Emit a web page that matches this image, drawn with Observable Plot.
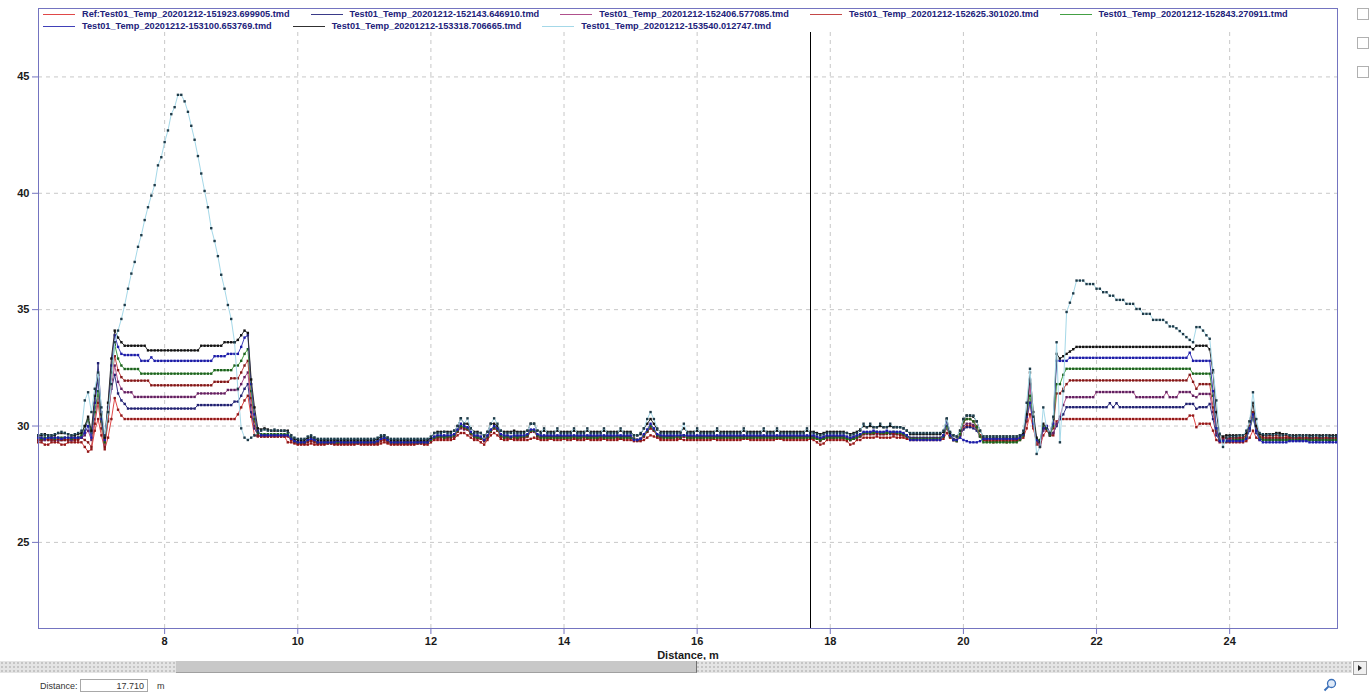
<!DOCTYPE html>
<html><head><meta charset="utf-8">
<script src="https://cdn.jsdelivr.net/npm/d3@7"></script>
<script src="https://cdn.jsdelivr.net/npm/@observablehq/plot@0.6"></script>
<style>
body{margin:0;background:#fff;font-family:"Liberation Sans",Arial,sans-serif;}
#wrap{position:relative;width:1372px;height:694px;overflow:hidden;background:#fff}
#chart{position:absolute;left:0;top:0}
#chart svg g[aria-label="x-axis tick"], #chart svg g[aria-label="y-axis tick"]{stroke:#7474c0}
#chart svg g[aria-label="x-axis tick label"], #chart svg g[aria-label="y-axis tick label"]{fill:#1a1a1a}
#legend{position:absolute;left:39px;top:9px;width:1297px;height:23px;background:#fff}
.lrow{position:absolute;left:4px;display:flex;gap:21px;white-space:nowrap}
.item{display:flex;align-items:center;font-weight:bold;font-size:9.2px;color:#22227a}
.swatch{display:inline-block;width:32px;height:1px;margin-right:7px}
#scroll{position:absolute;left:0;top:661px;width:1352px;height:12px;background-color:#e4e4e4;
 background-image:radial-gradient(#c4c4c4 0.7px,transparent 0.9px);background-size:4px 4px}
#thumb{position:absolute;left:176px;top:0;width:520px;height:11px;background:#c8c8c8;border-right:1px solid #707070;border-bottom:1px solid #a0a0a0}
#arrow{position:absolute;left:1353px;top:661px;width:12px;height:12px;border:1px solid #a0a0a0;background:#f0f0f0}
#arrow:after{content:"";position:absolute;left:4px;top:3px;border-left:4px solid #222;border-top:3px solid transparent;border-bottom:3px solid transparent}
.chk{position:absolute;left:1357px;width:10px;height:10px;border:1px solid #b0b0b0;background:#fff}
#dlabel{position:absolute;left:40px;top:681px;font-size:9px;color:#333}
#dbox{position:absolute;left:80px;top:679px;width:68px;height:13px;border:1px solid #a8a8a8;font-size:9px;color:#333;text-align:right;line-height:13px;padding-right:3px;box-sizing:border-box}
#dunit{position:absolute;left:157px;top:681px;font-size:9px;color:#333}
#zoombtn{position:absolute;left:1322px;top:677px}
</style></head><body>
<div id="wrap">
<div id="chart"></div>
<div id="legend"></div>
<div class="chk" style="top:8px"></div>
<div class="chk" style="top:37px"></div>
<div class="chk" style="top:66px"></div>
<div id="scroll"><div id="thumb"></div></div>
<div id="arrow"></div>
<div id="dlabel">Distance:</div>
<div id="dbox">17.710</div>
<div id="dunit">m</div>
<svg id="zoombtn" width="16" height="16" viewBox="0 0 16 16"><circle cx="9.5" cy="6.5" r="4" fill="#dfeaf8" stroke="#3a6fb8" stroke-width="1.3"/><line x1="6.6" y1="9.4" x2="2.5" y2="13.5" stroke="#3a6fb8" stroke-width="2"/></svg>
</div>
<script>
// Sampling grid of the distance axis (m)
const distanceStart = 6.10;
const distanceStep = 0.05;
const cursorDistance = 17.710;

const seriesNames = [
  "Ref:Test01_Temp_20201212-151923.699905.tmd",
  "Test01_Temp_20201212-152143.646910.tmd",
  "Test01_Temp_20201212-152406.577085.tmd",
  "Test01_Temp_20201212-152625.301020.tmd",
  "Test01_Temp_20201212-152843.270911.tmd",
  "Test01_Temp_20201212-153100.653769.tmd",
  "Test01_Temp_20201212-153318.706665.tmd",
  "Test01_Temp_20201212-153540.012747.tmd"
];
const lineColors = ["#e04848","#3a3a88","#b0508c","#c44848","#44a044","#4040b8","#303030","#a4d8e8"];
const markerColors = ["#901818","#202070","#602060","#801818","#1c601c","#1c1ca8","#111111","#1e3a48"];
const xTicks = [8,10,12,14,16,18,20,22,24];
const yTicks = [25,30,35,40,45];

const t151923 = [
29.3,29.3,29.2,29.2,29.3,29.3,29.3,29.2,29.2,29.3,29.3,29.3,29.3,29.3,29.1,28.9,29.0,29.8,30.3,29.6,
29.0,29.5,30.3,31.2,30.7,30.45,30.3,30.3,30.3,30.3,30.3,30.3,30.3,30.3,30.3,30.3,30.3,30.3,30.3,30.3,
30.3,30.3,30.3,30.3,30.3,30.3,30.3,30.3,30.3,30.3,30.3,30.3,30.3,30.3,30.3,30.3,30.3,30.3,30.3,30.3,
30.5,30.8,31.1,31.3,30.4,29.6,29.55,29.55,29.55,29.55,29.55,29.55,29.55,29.55,29.55,29.3,29.3,29.25,29.2,29.2,
29.2,29.2,29.25,29.2,29.2,29.2,29.2,29.25,29.25,29.2,29.2,29.2,29.2,29.2,29.2,29.2,29.25,29.2,29.2,29.2,
29.2,29.2,29.2,29.25,29.3,29.25,29.2,29.2,29.2,29.2,29.2,29.2,29.2,29.2,29.25,29.25,29.2,29.2,29.3,29.4,
29.4,29.4,29.4,29.4,29.4,29.45,29.6,29.7,29.7,29.6,29.5,29.4,29.4,29.3,29.2,29.4,29.6,29.7,29.6,29.45,
29.4,29.4,29.45,29.4,29.4,29.4,29.4,29.4,29.45,29.5,29.45,29.4,29.4,29.4,29.45,29.4,29.4,29.4,29.45,29.4,
29.4,29.45,29.4,29.4,29.4,29.45,29.4,29.4,29.4,29.4,29.45,29.4,29.4,29.4,29.4,29.45,29.4,29.4,29.4,29.35,
29.35,29.35,29.4,29.5,29.6,29.55,29.5,29.4,29.4,29.4,29.4,29.4,29.4,29.45,29.4,29.4,29.4,29.4,29.4,29.4,
29.4,29.4,29.4,29.45,29.4,29.4,29.4,29.4,29.4,29.4,29.4,29.4,29.45,29.45,29.4,29.4,29.4,29.4,29.4,29.4,
29.4,29.4,29.45,29.45,29.4,29.4,29.4,29.4,29.4,29.4,29.4,29.4,29.45,29.4,29.3,29.2,29.25,29.4,29.4,29.4,
29.4,29.4,29.4,29.35,29.2,29.25,29.4,29.4,29.5,29.5,29.5,29.5,29.55,29.5,29.5,29.5,29.5,29.55,29.5,29.5,
29.5,29.45,29.4,29.4,29.4,29.4,29.4,29.4,29.4,29.4,29.4,29.4,29.45,29.7,29.5,29.4,29.35,29.6,29.9,30.0,
30.0,30.0,29.9,29.6,29.4,29.35,29.35,29.3,29.35,29.35,29.35,29.3,29.35,29.35,29.35,29.4,29.5,29.9,30.5,29.9,
29.3,29.1,29.6,29.8,29.6,29.6,30.2,30.3,30.3,30.3,30.3,30.3,30.3,30.3,30.3,30.3,30.3,30.3,30.3,30.3,
30.3,30.3,30.3,30.3,30.3,30.3,30.3,30.3,30.3,30.3,30.3,30.3,30.3,30.3,30.3,30.3,30.3,30.3,30.3,30.3,
30.3,30.3,30.3,30.3,30.3,30.3,30.45,30.45,29.95,30.1,30.1,30.1,30.1,29.8,29.4,29.3,29.3,29.3,29.3,29.3,
29.3,29.3,29.3,29.35,29.5,29.8,29.5,29.4,29.6,29.6,29.6,29.6,29.6,29.6,29.6,29.6,29.5,29.5,29.45,29.45,
29.45,29.45,29.45,29.45,29.45,29.45,29.45,29.45,29.45,29.45,29.45];

const t152143 = [
29.4,29.4,29.4,29.45,29.4,29.4,29.4,29.4,29.45,29.4,29.4,29.45,29.5,29.5,29.8,30.3,29.6,30.8,32.7,30.6,
29.3,30.5,31.6,32.2,31.4,31.1,30.95,30.75,30.75,30.75,30.75,30.75,30.75,30.75,30.75,30.75,30.75,30.75,30.75,30.75,
30.75,30.75,30.75,30.75,30.75,30.75,30.75,30.75,30.9,30.9,30.9,30.9,30.9,30.9,30.9,30.9,30.9,30.9,30.9,31.05,
31.05,31.3,31.6,31.8,30.6,29.9,29.6,29.6,29.6,29.6,29.6,29.6,29.6,29.6,29.6,29.6,29.45,29.35,29.3,29.3,
29.3,29.4,29.45,29.4,29.3,29.3,29.3,29.3,29.3,29.3,29.35,29.3,29.3,29.3,29.3,29.3,29.3,29.3,29.3,29.3,
29.3,29.3,29.35,29.45,29.5,29.4,29.3,29.3,29.3,29.3,29.3,29.3,29.3,29.3,29.3,29.35,29.3,29.3,29.4,29.5,
29.55,29.55,29.55,29.55,29.55,29.6,29.8,30.0,29.9,29.9,29.7,29.55,29.55,29.5,29.4,29.55,29.8,29.95,29.85,29.6,
29.55,29.55,29.5,29.55,29.55,29.55,29.55,29.6,29.8,29.8,29.6,29.55,29.55,29.55,29.55,29.55,29.55,29.55,29.55,29.55,
29.55,29.55,29.55,29.55,29.55,29.55,29.55,29.55,29.55,29.55,29.55,29.55,29.55,29.55,29.55,29.55,29.55,29.55,29.55,29.45,
29.4,29.45,29.6,29.8,30.0,29.85,29.6,29.55,29.55,29.55,29.55,29.55,29.55,29.55,29.6,29.55,29.55,29.55,29.55,29.55,
29.55,29.55,29.55,29.55,29.55,29.55,29.55,29.55,29.55,29.55,29.55,29.55,29.55,29.55,29.55,29.55,29.55,29.55,29.55,29.55,
29.55,29.55,29.55,29.55,29.55,29.55,29.55,29.55,29.55,29.55,29.55,29.55,29.55,29.55,29.5,29.45,29.5,29.55,29.55,29.55,
29.55,29.55,29.55,29.5,29.45,29.5,29.55,29.6,29.7,29.7,29.7,29.75,29.7,29.7,29.7,29.75,29.7,29.7,29.7,29.7,
29.65,29.6,29.5,29.5,29.5,29.5,29.5,29.5,29.5,29.5,29.5,29.5,29.6,29.95,29.6,29.45,29.4,29.6,29.85,29.95,
29.95,29.9,29.8,29.55,29.45,29.45,29.45,29.45,29.45,29.45,29.45,29.45,29.45,29.45,29.45,29.5,29.7,30.4,32.0,30.3,
29.4,29.2,29.9,29.9,29.6,29.7,30.0,30.3,30.5,30.81,30.81,30.81,30.81,30.81,30.81,30.81,30.81,30.81,30.81,30.81,
30.81,30.81,30.98,30.81,30.98,30.81,30.81,30.81,30.81,30.81,30.81,30.81,30.81,30.81,30.81,30.81,30.81,30.81,30.81,30.81,
30.81,30.81,30.81,30.81,30.81,30.95,30.95,30.95,30.74,30.81,30.81,30.81,30.95,30.3,29.6,29.4,29.4,29.4,29.4,29.4,
29.4,29.4,29.4,29.5,29.8,30.4,29.7,29.45,29.4,29.4,29.4,29.4,29.4,29.4,29.4,29.4,29.4,29.4,29.4,29.4,
29.4,29.4,29.4,29.4,29.35,29.4,29.4,29.4,29.35,29.4,29.4];

const t152406 = [
29.4,29.4,29.4,29.4,29.45,29.4,29.4,29.4,29.4,29.45,29.4,29.4,29.45,29.5,29.6,29.8,29.4,30.3,31.3,30.2,
29.2,30.3,31.7,32.6,31.9,31.6,31.45,31.45,31.45,31.25,31.25,31.25,31.25,31.25,31.25,31.25,31.25,31.25,31.25,31.25,
31.25,31.25,31.25,31.25,31.25,31.25,31.25,31.25,31.4,31.4,31.4,31.4,31.4,31.4,31.4,31.4,31.4,31.55,31.55,31.55,
31.55,31.8,32.1,32.3,30.9,30.0,29.6,29.6,29.6,29.6,29.6,29.6,29.6,29.6,29.6,29.6,29.45,29.35,29.3,29.3,
29.3,29.35,29.4,29.35,29.3,29.3,29.3,29.3,29.3,29.3,29.3,29.3,29.3,29.3,29.3,29.3,29.3,29.3,29.3,29.3,
29.3,29.3,29.3,29.4,29.45,29.35,29.3,29.3,29.3,29.3,29.3,29.3,29.3,29.3,29.3,29.3,29.3,29.3,29.4,29.5,
29.5,29.5,29.5,29.5,29.5,29.55,29.75,29.9,29.85,29.85,29.65,29.5,29.5,29.45,29.35,29.5,29.75,29.9,29.8,29.55,
29.5,29.5,29.5,29.5,29.5,29.5,29.5,29.55,29.75,29.75,29.55,29.5,29.5,29.5,29.5,29.5,29.5,29.5,29.5,29.5,
29.5,29.5,29.5,29.5,29.5,29.5,29.5,29.5,29.5,29.5,29.5,29.5,29.5,29.5,29.5,29.5,29.5,29.5,29.5,29.45,
29.4,29.4,29.55,29.75,29.9,29.8,29.55,29.5,29.5,29.5,29.5,29.5,29.5,29.5,29.55,29.5,29.5,29.5,29.5,29.5,
29.5,29.5,29.5,29.5,29.5,29.5,29.5,29.5,29.5,29.5,29.5,29.5,29.5,29.5,29.5,29.5,29.5,29.5,29.5,29.5,
29.5,29.5,29.5,29.5,29.5,29.5,29.5,29.5,29.5,29.5,29.5,29.5,29.5,29.5,29.45,29.4,29.45,29.5,29.5,29.5,
29.5,29.5,29.5,29.45,29.4,29.45,29.5,29.55,29.65,29.65,29.65,29.7,29.65,29.65,29.65,29.7,29.65,29.65,29.65,29.65,
29.6,29.55,29.45,29.45,29.45,29.45,29.45,29.45,29.45,29.45,29.45,29.45,29.55,29.9,29.55,29.4,29.4,29.6,30.0,30.1,
30.1,30.05,29.9,29.55,29.4,29.4,29.4,29.4,29.4,29.4,29.4,29.4,29.4,29.4,29.4,29.45,29.6,30.3,31.8,30.2,
29.3,29.2,29.8,29.9,29.6,29.7,30.1,30.4,30.9,31.24,31.24,31.24,31.24,31.24,31.24,31.24,31.24,31.24,31.46,31.46,
31.46,31.46,31.46,31.46,31.46,31.46,31.46,31.46,31.46,31.46,31.24,31.24,31.24,31.24,31.24,31.24,31.24,31.24,31.24,31.46,
31.24,31.24,31.24,31.46,31.46,31.46,31.46,31.3,31.24,31.38,31.38,31.38,31.38,30.6,29.7,29.45,29.45,29.45,29.45,29.45,
29.45,29.45,29.45,29.55,29.9,30.5,29.8,29.5,29.45,29.45,29.45,29.45,29.45,29.45,29.45,29.45,29.45,29.45,29.45,29.45,
29.45,29.45,29.45,29.45,29.45,29.45,29.45,29.45,29.45,29.45,29.45];

const t152625 = [
29.4,29.4,29.45,29.4,29.4,29.4,29.45,29.4,29.4,29.4,29.45,29.4,29.4,29.5,29.4,29.3,29.1,30.1,31.0,29.9,
29.1,30.2,32.0,33.0,32.4,32.1,31.95,31.95,31.95,31.95,31.95,31.95,31.95,31.95,31.75,31.75,31.75,31.75,31.75,31.75,
31.75,31.75,31.75,31.75,31.75,31.75,31.75,31.75,31.75,31.75,31.75,31.75,31.75,31.9,31.9,31.9,31.9,31.9,32.05,32.05,
32.05,32.3,32.6,32.8,31.2,30.2,29.6,29.55,29.55,29.55,29.55,29.55,29.55,29.55,29.55,29.55,29.4,29.3,29.25,29.25,
29.25,29.3,29.35,29.3,29.25,29.25,29.25,29.25,29.25,29.25,29.25,29.25,29.25,29.25,29.25,29.25,29.25,29.25,29.25,29.25,
29.25,29.25,29.25,29.35,29.4,29.3,29.25,29.25,29.25,29.25,29.25,29.25,29.25,29.25,29.25,29.25,29.25,29.3,29.4,29.5,
29.5,29.5,29.5,29.5,29.5,29.55,29.75,29.95,29.9,29.85,29.65,29.5,29.5,29.45,29.35,29.5,29.75,29.9,29.8,29.55,
29.5,29.5,29.5,29.5,29.45,29.5,29.5,29.55,29.75,29.8,29.55,29.5,29.5,29.5,29.5,29.5,29.5,29.5,29.5,29.5,
29.5,29.5,29.45,29.5,29.5,29.5,29.5,29.5,29.45,29.5,29.5,29.5,29.5,29.5,29.5,29.45,29.5,29.5,29.5,29.45,
29.4,29.4,29.55,29.75,29.9,29.8,29.55,29.5,29.5,29.5,29.5,29.5,29.5,29.5,29.55,29.5,29.5,29.5,29.5,29.5,
29.5,29.5,29.5,29.5,29.5,29.5,29.5,29.5,29.5,29.5,29.5,29.5,29.5,29.5,29.5,29.5,29.5,29.5,29.5,29.5,
29.5,29.5,29.5,29.5,29.5,29.5,29.5,29.5,29.5,29.5,29.5,29.5,29.5,29.5,29.45,29.35,29.45,29.5,29.5,29.5,
29.5,29.5,29.5,29.45,29.4,29.45,29.5,29.55,29.65,29.7,29.65,29.65,29.7,29.65,29.65,29.65,29.7,29.65,29.65,29.6,
29.6,29.55,29.45,29.45,29.45,29.45,29.45,29.45,29.45,29.45,29.45,29.45,29.55,30.0,29.55,29.4,29.4,29.65,30.15,30.3,
30.3,30.2,30.0,29.6,29.4,29.4,29.4,29.4,29.4,29.4,29.4,29.4,29.4,29.4,29.4,29.45,29.6,30.2,31.0,30.0,
29.2,29.3,29.9,30.0,29.7,29.9,31.4,31.4,31.6,31.8,31.96,31.96,31.96,31.96,31.96,31.96,31.96,31.96,31.96,31.96,
31.96,31.96,31.96,31.96,31.96,31.96,31.96,31.96,31.96,31.96,31.96,31.96,31.96,31.96,31.96,31.96,31.96,31.96,31.96,31.96,
31.96,31.96,31.96,31.96,31.96,31.96,32.2,31.9,31.6,31.8,31.8,31.8,31.8,30.8,29.8,29.5,29.5,29.5,29.5,29.5,
29.5,29.5,29.5,29.6,30.0,30.6,29.9,29.55,29.5,29.5,29.5,29.5,29.5,29.5,29.5,29.5,29.5,29.5,29.5,29.5,
29.5,29.5,29.5,29.5,29.5,29.5,29.5,29.5,29.5,29.5,29.5];

const t152843 = [
29.5,29.45,29.5,29.5,29.5,29.45,29.5,29.5,29.5,29.5,29.45,29.5,29.5,29.6,30.0,30.3,29.7,30.6,31.5,30.2,
29.3,30.6,32.3,33.5,32.9,32.6,32.45,32.45,32.45,32.45,32.45,32.25,32.25,32.25,32.25,32.25,32.25,32.25,32.25,32.25,
32.25,32.25,32.25,32.25,32.25,32.25,32.25,32.25,32.25,32.25,32.25,32.25,32.25,32.4,32.4,32.4,32.4,32.4,32.4,32.6,
32.6,32.8,33.1,33.3,31.5,30.3,29.7,29.65,29.65,29.65,29.65,29.65,29.65,29.65,29.65,29.65,29.5,29.35,29.3,29.3,
29.3,29.4,29.45,29.4,29.3,29.3,29.3,29.3,29.3,29.3,29.3,29.3,29.3,29.3,29.3,29.3,29.3,29.3,29.3,29.3,
29.3,29.3,29.35,29.45,29.5,29.4,29.3,29.3,29.3,29.3,29.3,29.3,29.3,29.3,29.3,29.3,29.3,29.3,29.4,29.5,
29.55,29.55,29.5,29.55,29.55,29.6,29.8,30.0,29.95,29.9,29.7,29.55,29.5,29.5,29.4,29.55,29.8,29.95,29.85,29.6,
29.5,29.55,29.5,29.55,29.5,29.55,29.55,29.6,29.8,29.8,29.6,29.5,29.5,29.5,29.5,29.5,29.5,29.5,29.5,29.5,
29.5,29.55,29.5,29.5,29.55,29.5,29.5,29.5,29.5,29.55,29.5,29.5,29.5,29.5,29.55,29.5,29.5,29.5,29.5,29.45,
29.4,29.45,29.6,29.8,30.0,29.85,29.6,29.55,29.5,29.5,29.5,29.5,29.55,29.5,29.6,29.5,29.5,29.5,29.5,29.5,
29.5,29.5,29.5,29.5,29.5,29.5,29.5,29.5,29.5,29.5,29.5,29.5,29.5,29.5,29.5,29.5,29.5,29.5,29.5,29.5,
29.5,29.5,29.5,29.5,29.5,29.5,29.5,29.5,29.5,29.5,29.5,29.5,29.5,29.5,29.45,29.4,29.45,29.5,29.5,29.5,
29.5,29.5,29.5,29.45,29.4,29.45,29.5,29.6,29.7,29.7,29.7,29.7,29.75,29.7,29.7,29.7,29.7,29.75,29.7,29.7,
29.65,29.55,29.45,29.45,29.45,29.45,29.45,29.45,29.45,29.45,29.45,29.45,29.55,30.0,29.55,29.4,29.35,29.65,30.2,30.3,
30.3,30.2,29.95,29.55,29.3,29.3,29.3,29.3,29.3,29.3,29.3,29.3,29.3,29.3,29.3,29.4,29.6,30.5,31.3,30.2,
29.4,29.4,30.0,29.9,29.6,30.0,31.8,31.8,32.2,32.46,32.46,32.46,32.46,32.46,32.46,32.46,32.46,32.46,32.46,32.46,
32.46,32.46,32.46,32.46,32.46,32.46,32.46,32.46,32.46,32.46,32.46,32.46,32.46,32.46,32.46,32.46,32.46,32.46,32.46,32.46,
32.46,32.46,32.46,32.46,32.46,32.46,32.46,32.25,32.25,32.25,32.25,32.25,32.25,31.3,29.9,29.4,29.35,29.35,29.35,29.4,
29.4,29.4,29.4,29.5,29.9,30.4,29.8,29.5,29.4,29.4,29.4,29.4,29.4,29.4,29.4,29.4,29.4,29.4,29.4,29.4,
29.4,29.4,29.4,29.4,29.4,29.4,29.4,29.4,29.4,29.4,29.4];

const t153100 = [
29.5,29.5,29.45,29.5,29.5,29.5,29.5,29.45,29.5,29.5,29.5,29.5,29.5,29.5,29.7,30.0,29.5,31.0,32.0,30.3,
29.4,30.8,32.6,33.9,33.4,33.1,33.05,33.05,33.05,33.05,33.05,32.8,32.8,32.8,32.95,32.8,32.8,32.8,32.8,32.8,
32.8,32.8,32.8,32.8,32.8,32.8,32.8,32.8,32.8,32.8,32.8,32.8,32.8,33.0,33.0,33.0,33.0,33.1,33.1,33.1,
33.1,33.4,33.8,33.9,31.8,30.5,29.8,29.6,29.6,29.6,29.6,29.6,29.6,29.6,29.6,29.6,29.45,29.35,29.3,29.3,
29.3,29.4,29.45,29.4,29.3,29.3,29.3,29.3,29.3,29.3,29.35,29.3,29.3,29.3,29.3,29.3,29.3,29.3,29.3,29.3,
29.3,29.3,29.35,29.45,29.5,29.4,29.3,29.3,29.3,29.3,29.3,29.3,29.3,29.3,29.3,29.3,29.3,29.3,29.45,29.55,
29.6,29.6,29.6,29.6,29.6,29.65,29.85,30.1,30.0,29.95,29.75,29.6,29.6,29.55,29.4,29.6,29.85,30.0,29.9,29.65,
29.6,29.6,29.55,29.6,29.6,29.6,29.6,29.65,29.85,29.85,29.65,29.6,29.6,29.6,29.6,29.6,29.6,29.6,29.6,29.6,
29.6,29.6,29.6,29.6,29.6,29.6,29.6,29.6,29.6,29.6,29.6,29.6,29.6,29.6,29.6,29.6,29.6,29.6,29.6,29.4,
29.4,29.45,29.65,29.85,30.1,29.9,29.65,29.6,29.6,29.6,29.6,29.6,29.6,29.6,29.6,29.6,29.6,29.6,29.6,29.6,
29.6,29.6,29.6,29.6,29.6,29.6,29.6,29.6,29.6,29.6,29.6,29.6,29.6,29.6,29.6,29.6,29.6,29.6,29.6,29.6,
29.6,29.6,29.6,29.6,29.6,29.6,29.6,29.6,29.6,29.6,29.6,29.6,29.6,29.6,29.55,29.5,29.55,29.6,29.6,29.6,
29.6,29.6,29.6,29.55,29.5,29.55,29.6,29.65,29.75,29.75,29.75,29.8,29.75,29.75,29.75,29.8,29.75,29.75,29.75,29.75,
29.7,29.6,29.4,29.4,29.4,29.4,29.4,29.4,29.4,29.4,29.4,29.4,29.6,30.2,29.6,29.4,29.4,29.5,29.4,29.35,
29.3,29.3,29.3,29.35,29.45,29.45,29.45,29.45,29.45,29.45,29.45,29.45,29.45,29.45,29.45,29.5,29.65,30.4,31.0,30.1,
29.4,29.3,29.9,30.0,29.7,30.1,32.8,32.8,32.8,32.8,32.93,32.93,32.93,32.93,32.93,32.93,32.93,32.93,32.93,32.93,
32.93,32.93,32.93,32.93,32.93,32.93,32.93,32.93,32.93,32.93,32.93,32.93,32.93,32.93,32.93,32.93,32.93,32.93,32.93,32.93,
32.93,32.93,32.93,32.93,32.93,32.93,33.15,32.8,32.8,32.8,32.8,32.8,32.8,31.5,29.9,29.35,29.35,29.35,29.35,29.35,
29.35,29.35,29.35,29.45,29.9,30.5,29.8,29.4,29.3,29.3,29.3,29.3,29.3,29.3,29.3,29.3,29.35,29.35,29.35,29.35,
29.35,29.35,29.3,29.3,29.3,29.3,29.3,29.3,29.3,29.3,29.3];

const t153318 = [
29.6,29.6,29.65,29.6,29.6,29.6,29.7,29.7,29.7,29.65,29.6,29.6,29.65,29.7,30.0,30.4,29.8,31.3,32.2,30.5,
29.5,31.0,32.9,34.1,33.8,33.6,33.45,33.45,33.45,33.45,33.45,33.45,33.45,33.25,33.25,33.25,33.25,33.25,33.25,33.25,
33.25,33.25,33.25,33.25,33.25,33.25,33.25,33.25,33.25,33.45,33.45,33.45,33.45,33.45,33.45,33.45,33.6,33.6,33.6,33.6,
33.7,33.9,34.1,34.0,32.0,30.8,29.9,29.85,29.9,29.85,29.8,29.8,29.8,29.8,29.8,29.8,29.6,29.45,29.4,29.4,
29.4,29.5,29.55,29.5,29.4,29.4,29.4,29.4,29.4,29.4,29.4,29.4,29.4,29.4,29.4,29.4,29.4,29.4,29.4,29.4,
29.4,29.4,29.45,29.55,29.6,29.5,29.4,29.4,29.4,29.4,29.4,29.4,29.4,29.4,29.4,29.4,29.4,29.4,29.5,29.7,
29.75,29.75,29.75,29.75,29.75,29.8,30.0,30.33,30.1,30.1,29.9,29.75,29.75,29.7,29.55,29.75,30.1,30.1,30.0,29.8,
29.75,29.75,29.75,29.8,29.75,29.75,29.75,29.8,30.1,30.1,29.8,29.75,29.8,29.75,29.75,29.75,29.8,29.75,29.75,29.75,
29.75,29.8,29.75,29.75,29.75,29.8,29.75,29.75,29.75,29.75,29.8,29.75,29.75,29.75,29.75,29.8,29.75,29.75,29.75,29.6,
29.6,29.65,29.9,30.1,30.3,30.1,29.85,29.75,29.75,29.75,29.75,29.75,29.75,29.75,29.9,29.75,29.75,29.75,29.8,29.75,
29.75,29.75,29.75,29.75,29.8,29.75,29.75,29.75,29.75,29.75,29.75,29.75,29.8,29.75,29.75,29.75,29.75,29.75,29.8,29.75,
29.75,29.75,29.8,29.75,29.75,29.75,29.75,29.75,29.75,29.75,29.75,29.8,29.75,29.75,29.7,29.65,29.7,29.75,29.75,29.75,
29.75,29.75,29.75,29.7,29.65,29.7,29.75,29.85,30.0,29.95,30.0,29.95,29.95,30.0,29.95,29.95,30.0,29.95,29.95,29.95,
29.9,29.8,29.65,29.65,29.65,29.65,29.65,29.65,29.65,29.65,29.65,29.65,29.75,30.3,29.7,29.6,29.55,29.8,30.3,30.45,
30.45,30.4,30.2,29.8,29.55,29.55,29.55,29.55,29.55,29.55,29.55,29.55,29.55,29.55,29.55,29.6,29.7,30.5,32.3,30.6,
29.5,29.3,30.1,29.9,29.7,30.3,33.1,32.9,33.0,33.1,33.2,33.3,33.4,33.4,33.4,33.4,33.4,33.4,33.4,33.4,
33.4,33.4,33.4,33.4,33.4,33.4,33.4,33.4,33.4,33.4,33.4,33.4,33.4,33.4,33.4,33.4,33.4,33.4,33.4,33.4,
33.4,33.4,33.4,33.4,33.4,33.4,33.4,33.3,33.45,33.45,33.45,33.45,33.3,32.3,30.6,29.6,29.55,29.6,29.6,29.6,
29.6,29.6,29.6,29.7,30.2,31.0,30.0,29.65,29.6,29.65,29.65,29.65,29.7,29.7,29.65,29.65,29.6,29.6,29.6,29.6,
29.6,29.6,29.6,29.6,29.6,29.6,29.6,29.6,29.6,29.6,29.6];

const t153540 = [
29.6,29.65,29.6,29.6,29.6,29.65,29.7,29.75,29.7,29.65,29.6,29.65,29.7,29.8,31.1,31.45,30.6,31.6,32.3,30.8,
29.6,30.6,31.8,33.6,34.1,34.6,35.2,35.9,36.55,37.05,37.7,38.2,38.85,39.4,39.9,40.35,41.2,41.55,42.2,42.7,
43.4,43.7,44.23,44.23,43.95,43.5,42.9,42.3,41.6,40.85,40.1,39.4,38.5,37.95,37.3,36.5,35.9,35.2,34.6,33.6,
31.6,29.9,29.5,29.4,29.5,29.6,29.75,29.8,29.85,29.8,29.8,29.85,29.8,29.8,29.8,29.75,29.6,29.5,29.45,29.45,
29.45,29.55,29.6,29.5,29.45,29.45,29.45,29.45,29.45,29.45,29.45,29.45,29.45,29.45,29.45,29.45,29.45,29.45,29.45,29.45,
29.45,29.45,29.5,29.6,29.6,29.5,29.45,29.45,29.45,29.45,29.45,29.45,29.45,29.45,29.45,29.45,29.45,29.45,29.55,29.7,
29.7,29.7,29.75,29.7,29.7,29.8,30.0,30.33,30.1,30.33,29.9,29.7,29.7,29.7,29.6,29.75,30.1,30.33,30.1,29.8,
29.7,29.7,29.7,29.7,29.7,29.7,29.7,29.8,30.1,30.1,29.8,29.7,29.9,29.7,29.7,29.7,29.9,29.7,29.7,29.7,
29.7,29.9,29.7,29.7,29.7,29.9,29.7,29.7,29.7,29.7,29.9,29.7,29.7,29.7,29.7,29.9,29.7,29.7,29.7,29.6,
29.6,29.7,29.9,30.3,30.6,30.3,29.9,29.7,29.7,29.7,29.7,29.7,29.7,29.7,30.1,29.7,29.7,29.7,29.9,29.7,
29.7,29.7,29.7,29.7,29.9,29.7,29.7,29.7,29.7,29.7,29.7,29.7,29.9,29.7,29.7,29.7,29.7,29.7,29.9,29.7,
29.7,29.7,29.9,29.7,29.7,29.7,29.7,29.7,29.7,29.7,29.7,29.9,29.7,29.7,29.65,29.6,29.65,29.7,29.7,29.7,
29.7,29.7,29.7,29.7,29.6,29.65,29.7,29.8,30.1,29.95,30.1,29.95,29.95,30.1,29.95,29.95,30.1,29.95,29.95,29.95,
29.9,29.8,29.7,29.7,29.7,29.7,29.7,29.7,29.7,29.7,29.7,29.7,29.8,30.33,29.75,29.6,29.55,29.8,30.3,30.45,
30.45,30.45,30.2,29.8,29.55,29.55,29.55,29.55,29.55,29.55,29.55,29.55,29.55,29.55,29.55,29.6,29.8,31.0,32.46,30.4,
28.8,29.1,30.8,29.9,29.7,30.4,33.6,29.3,31.5,34.9,35.3,35.7,36.25,36.25,36.25,36.1,36.1,36.1,35.9,35.9,
35.75,35.75,35.6,35.6,35.42,35.42,35.42,35.25,35.25,35.25,35.03,35.03,34.82,34.82,34.82,34.56,34.56,34.56,34.56,34.45,
34.28,34.28,34.2,34.08,33.95,33.82,33.7,33.6,34.25,34.25,34.1,33.9,33.75,32.4,31.1,29.67,29.1,29.5,29.55,29.55,
29.55,29.6,29.6,29.8,30.2,31.45,30.3,29.7,29.65,29.6,29.65,29.6,29.65,29.6,29.6,29.65,29.6,29.55,29.55,29.6,
29.55,29.6,29.55,29.55,29.6,29.55,29.55,29.6,29.55,29.55,29.55];

const seriesValues = [t151923, t152143, t152406, t152625, t152843, t153100, t153318, t153540];

// Legend (two rows as in the original)
const legend = document.getElementById("legend");
[[0,5],[5,8]].forEach(([a,b], r) => {
  const row = document.createElement("div");
  row.className = "lrow";
  row.style.top = (r === 0 ? 0 : 12) + "px";
  for (let k = a; k < b; k++) {
    const it = document.createElement("div");
    it.className = "item";
    const sw = document.createElement("span");
    sw.className = "swatch";
    sw.style.background = lineColors[k];
    it.appendChild(sw);
    it.appendChild(document.createTextNode(seriesNames[k]));
    row.appendChild(it);
  }
  legend.appendChild(row);
});

const tables = seriesValues.map(vals => vals.map((t, i) => ({d: distanceStart + i * distanceStep, t})));

const marks = [
  Plot.gridX(xTicks, {stroke: "#c8c8c8", strokeOpacity: 1, strokeDasharray: "4,4"}),
  Plot.gridY(yTicks, {stroke: "#c8c8c8", strokeOpacity: 1, strokeDasharray: "4,4"})
];
tables.forEach((tb, k) => {
  marks.push(Plot.line(tb, {x: "d", y: "t", stroke: lineColors[k], strokeWidth: 1}));
  marks.push(Plot.dot(tb, {x: "d", y: "t", symbol: "square", r: 1.35, fill: markerColors[k], stroke: null}));
});
marks.push(Plot.ruleX([cursorDistance], {stroke: "#000", strokeWidth: 1, shapeRendering: "crispEdges"}));
marks.push(Plot.frame({stroke: "#7474c0", shapeRendering: "crispEdges"}));
marks.push(Plot.text(["Distance, m"], {frameAnchor: "bottom", lineAnchor: "middle", dy: 27, fontWeight: "bold", fontSize: 11, fill: "#1a1a1a"}));

const chart = Plot.plot({
  width: 1372,
  height: 660,
  marginLeft: 38,
  marginRight: 35,
  marginTop: 8,
  marginBottom: 32,
  style: {fontFamily: "'Liberation Sans', Arial, sans-serif", fontSize: "11px", fontWeight: "bold", background: "transparent", color: "#1a1a1a"},
  x: {domain: [6.105, 25.62], ticks: xTicks, tickSize: 6, tickPadding: 3, label: null},
  y: {domain: [21.3, 47.94], ticks: yTicks, tickSize: 6, tickPadding: 3, label: null},
  marks
});
document.getElementById("chart").appendChild(chart);
</script>
</body></html>
